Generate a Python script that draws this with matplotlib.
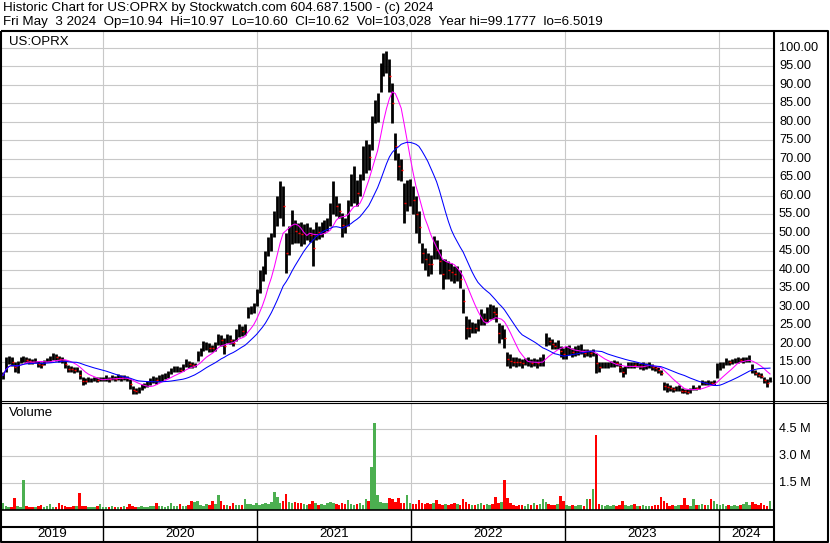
import matplotlib
matplotlib.use("Agg")
import matplotlib.pyplot as plt
from matplotlib.transforms import blended_transform_factory
import numpy as np
import pandas as pd

# Weekly price bars (US:OPRX, May 2019 - May 2024)
highs = [
    12.5, 16.5, 16.8, 16.5, 15.0, 15.5, 16.5, 16.8, 16.5, 16.2,
    16.0, 16.2, 15.5, 15.0, 15.8, 16.2, 16.8, 17.5, 17.3, 16.8,
    16.5, 15.8, 14.2, 14.0, 13.8, 13.9, 13.0, 11.2, 10.8, 11.0,
    10.8, 11.2, 11.0, 11.0, 11.2, 11.5, 11.2, 11.5, 11.3, 11.8,
    11.5, 11.6, 11.4, 10.5, 8.6, 8.2, 8.5, 9.3, 9.5, 10.0,
    10.8, 11.3, 11.0, 11.5, 11.8, 12.2, 12.6, 13.5, 14.1, 14.0,
    13.8, 14.5, 15.9, 15.5, 15.0, 14.9, 18.0, 18.8, 20.8, 20.5,
    20.4, 19.8, 20.5, 22.7, 22.5, 21.5, 22.7, 22.4, 21.3, 24.0,
    25.3, 24.9, 25.5, 30.0, 30.3, 31.0, 34.8, 40.0, 41.0, 45.0,
    49.0, 50.0, 56.0, 60.0, 64.0, 62.6, 50.0, 52.0, 56.3, 53.5,
    52.7, 53.0, 52.5, 52.7, 51.5, 51.0, 53.0, 52.0, 53.0, 53.6,
    54.0, 58.0, 64.0, 60.0, 58.0, 55.4, 54.0, 59.0, 66.0, 68.0,
    64.4, 66.0, 73.4, 75.2, 74.0, 81.5, 86.0, 87.8, 96.0, 98.6,
    99.1, 97.0, 90.5, 77.0, 71.6, 70.0, 63.5, 64.4, 64.5, 62.6,
    60.0, 56.0, 47.4, 46.0, 44.7, 44.0, 49.2, 48.0, 45.6, 43.0,
    43.0, 42.5, 42.0, 41.1, 41.0, 40.0, 34.8, 27.5, 26.7, 26.0,
    25.8, 26.7, 29.4, 28.5, 30.0, 30.8, 30.5, 30.0, 25.8, 25.0,
    24.0, 17.7, 17.3, 16.5, 16.5, 16.2, 16.0, 16.3, 16.5, 16.0,
    16.2, 16.0, 16.5, 17.3, 23.0, 22.0, 21.3, 20.5, 21.0, 19.5,
    18.8, 19.5, 19.7, 19.0, 19.5, 19.7, 20.0, 18.6, 18.6, 18.5,
    18.6, 17.5, 15.2, 15.0, 15.2, 15.0, 15.5, 15.7, 15.5, 14.8,
    13.8, 14.0, 15.0, 15.2, 15.0, 15.2, 14.8, 15.0, 14.8, 15.0,
    14.5, 14.0, 13.9, 13.0, 9.8, 9.5, 8.9, 8.5, 8.6, 8.9,
    8.0, 7.8, 7.8, 8.0, 8.9, 8.5, 9.0, 10.3, 10.0, 10.2,
    10.0, 10.3, 14.8, 15.2, 15.0, 16.1, 15.8, 16.0, 16.2, 16.6,
    16.3, 16.5, 16.6, 17.0, 14.5, 13.0, 12.5, 12.2, 11.2, 10.5, 11.2,
]
lows = [
    10.5, 12.5, 14.5, 14.0, 12.5, 12.2, 14.8, 15.0, 14.8, 14.5,
    14.5, 14.8, 13.8, 13.5, 14.2, 15.0, 15.2, 15.8, 15.5, 15.2,
    14.8, 13.5, 12.5, 12.5, 12.2, 12.4, 10.5, 8.9, 9.2, 9.6,
    9.8, 10.0, 9.8, 10.0, 10.0, 10.0, 9.8, 10.2, 10.0, 10.2,
    10.0, 10.3, 10.0, 7.8, 6.5, 6.5, 6.8, 7.6, 8.0, 8.5,
    9.0, 9.4, 9.3, 9.6, 10.0, 10.5, 10.8, 11.8, 12.3, 12.5,
    12.4, 12.8, 13.8, 13.6, 13.6, 13.7, 15.5, 16.8, 18.1, 18.5,
    17.7, 17.8, 18.0, 19.8, 19.5, 17.2, 20.4, 20.0, 19.5, 20.8,
    22.0, 22.2, 22.5, 27.0, 28.0, 28.5, 30.3, 33.8, 37.0, 39.0,
    43.7, 45.0, 49.0, 52.0, 54.0, 51.8, 39.2, 44.0, 47.0, 47.3,
    47.3, 46.4, 47.0, 48.2, 47.5, 41.0, 48.0, 48.5, 49.0, 50.0,
    50.5, 52.0, 55.0, 54.5, 54.0, 49.0, 50.0, 51.8, 57.2, 58.0,
    57.2, 60.0, 64.4, 66.2, 67.0, 72.5, 79.7, 80.0, 88.0, 92.3,
    93.2, 88.0, 79.7, 69.8, 64.4, 64.0, 52.7, 56.0, 57.2, 55.0,
    50.0, 47.3, 41.9, 40.0, 38.4, 39.0, 43.0, 43.0, 39.0, 34.8,
    37.5, 37.5, 37.0, 36.6, 37.0, 35.0, 28.5, 21.3, 22.0, 23.1,
    23.1, 23.5, 25.0, 25.0, 26.0, 26.7, 26.7, 26.0, 20.4, 21.3,
    19.0, 14.1, 13.6, 14.0, 13.8, 14.0, 13.6, 14.2, 14.0, 13.8,
    14.0, 13.6, 14.0, 14.0, 19.5, 19.8, 18.6, 18.6, 18.6, 16.5,
    15.9, 16.0, 17.0, 16.6, 16.8, 17.0, 17.2, 16.6, 16.8, 16.6,
    16.8, 12.1, 12.5, 13.4, 13.4, 13.6, 13.8, 13.9, 14.0, 12.5,
    11.2, 11.8, 13.4, 13.6, 13.4, 13.8, 13.2, 13.0, 13.2, 13.6,
    13.0, 12.8, 12.1, 11.5, 7.5, 7.1, 7.2, 7.1, 7.3, 7.4,
    6.8, 6.7, 6.5, 6.8, 7.6, 7.6, 7.8, 9.0, 8.9, 9.0,
    8.9, 9.0, 10.7, 13.0, 13.5, 14.3, 14.3, 14.5, 14.8, 14.8,
    15.0, 14.8, 15.0, 15.2, 12.1, 11.5, 11.0, 10.7, 9.5, 8.5, 9.8,
]
# peak daily volume in each week, millions of shares
volumes = [
    0.41, 0.2, 0.15, 0.18, 0.66, 0.2, 0.15, 1.65, 0.22, 0.19,
    0.15, 0.18, 0.2, 0.3, 0.17, 0.2, 0.34, 0.15, 0.18, 0.41,
    0.3, 0.2, 0.15, 0.18, 0.2, 0.22, 0.94, 0.25, 0.2, 0.15,
    0.18, 0.16, 0.2, 0.34, 0.15, 0.18, 0.15, 0.24, 0.15, 0.17,
    0.18, 0.2, 0.15, 0.34, 0.22, 0.19, 0.18, 0.2, 0.19, 0.17,
    0.2, 0.25, 0.41, 0.2, 0.22, 0.18, 0.25, 0.41, 0.2, 0.22,
    0.34, 0.25, 0.2, 0.3, 0.49, 0.45, 0.49, 0.3, 0.25, 0.34,
    0.3, 0.49, 0.35, 0.81, 0.53, 0.3, 0.3, 0.25, 0.41, 0.3,
    0.28, 0.3, 0.6, 0.35, 0.34, 0.3, 0.4, 0.3, 0.35, 0.41,
    0.35, 0.45, 1.03, 0.75, 0.4, 0.53, 0.9, 0.45, 0.41, 0.45,
    0.38, 0.41, 0.35, 0.3, 0.35, 0.53, 0.41, 0.3, 0.35, 0.3,
    0.4, 0.45, 0.41, 0.35, 0.3, 0.4, 0.35, 0.58, 0.35, 0.3,
    0.35, 0.41, 0.3, 0.62, 0.5, 2.4, 4.84, 0.81, 0.45, 0.41,
    0.41, 0.68, 0.6, 0.45, 0.68, 0.4, 0.4, 0.86, 0.41, 0.35,
    0.35, 0.56, 0.4, 0.35, 0.41, 0.35, 0.41, 0.56, 0.35, 0.3,
    0.35, 0.3, 0.35, 0.4, 0.35, 0.3, 0.62, 0.45, 0.35, 0.3,
    0.3, 0.35, 0.41, 0.3, 0.35, 0.3, 0.35, 0.75, 0.4, 0.45,
    1.69, 0.68, 0.41, 0.3, 0.25, 0.3, 0.3, 0.25, 0.35, 0.3,
    0.41, 0.3, 0.35, 0.62, 0.45, 0.35, 0.3, 0.3, 0.35, 0.79,
    0.53, 0.3, 0.25, 0.3, 0.25, 0.3, 0.3, 0.25, 0.62, 0.62,
    1.18, 4.18, 0.35, 0.3, 0.25, 0.3, 0.25, 0.3, 0.25, 0.3,
    0.53, 0.3, 0.25, 0.3, 0.35, 0.25, 0.25, 0.3, 0.25, 0.2,
    0.25, 0.3, 0.3, 0.75, 0.53, 0.41, 0.25, 0.3, 0.25, 0.3,
    0.3, 0.68, 0.3, 0.25, 0.62, 0.3, 0.3, 0.35, 0.3, 0.3,
    0.62, 0.53, 0.35, 0.3, 0.35, 0.25, 0.3, 0.25, 0.3, 0.25,
    0.3, 0.35, 0.47, 0.3, 0.47, 0.35, 0.3, 0.4, 0.3, 0.25, 0.53,
]
price_ticks = list(range(10, 105, 5))
volume_ticks = [1.5, 3.0, 4.5]
years = [2019, 2020, 2021, 2022, 2023, 2024]

header1 = "Historic Chart for US:OPRX by Stockwatch.com 604.687.1500 - (c) 2024"
header2 = ("Fri May  3 2024  Op=10.94  Hi=10.97  Lo=10.60  Cl=10.62  "
           "Vol=103,028  Year hi=99.1777  lo=6.5019")

plt.rcParams['font.family'] = ['Liberation Sans', 'DejaVu Sans']

W, H = 830, 543
GRID = '#c8c8c8'
GREEN = '#4caf50'


# axes box from pixel corners (origin top-left)
def box(x0, y0, x1, y1):
    return [x0 / W, 1 - y1 / H, (x1 - x0) / W, (y1 - y0) / H]


dates = pd.date_range('2019-05-08', periods=len(highs), freq='W-WED')
highs = np.array(highs)
lows = np.array(lows)
mids = (highs + lows) / 2
ma_fast = pd.Series(mids).rolling(8, min_periods=1).mean()
ma_slow = pd.Series(mids).rolling(20, min_periods=1).mean()
down = np.r_[False, np.diff(mids) < 0]
vol_colors = [('red' if d else GREEN) for d in down]

fig = plt.figure(figsize=(W / 100, H / 100), dpi=100)
ax_p = fig.add_axes(box(2, 32, 773, 400.5))
ax_v = fig.add_axes(box(2, 402.5, 773, 510), sharex=ax_p)
ax_y = fig.add_axes(box(2, 510, 773, 541), sharex=ax_p)
for ax in (ax_p, ax_v, ax_y):
    ax.axis('off')

x0, x1 = pd.Timestamp('2019-05-06'), pd.Timestamp('2024-05-08')
ax_p.set_xlim(x0, x1)
ax_p.set_ylim(4.73, 104.3)
ax_v.set_ylim(0, 6.0)
ax_y.set_ylim(0, 1)

jan1 = [pd.Timestamp(f'{y}-01-01') for y in years[1:]]

# grid
for p in price_ticks:
    ax_p.axhline(p, color=GRID, lw=0.8, zorder=0)
for v in volume_ticks:
    ax_v.axhline(v, color=GRID, lw=0.8, zorder=0)
for d in jan1:
    ax_p.axvline(d, color=GRID, lw=0.8, zorder=0)
    ax_v.axvline(d, color=GRID, lw=0.8, zorder=0)
    ax_y.axvline(d, color='black', lw=1.0)

# price bars + moving averages
ax_p.vlines(dates, lows, highs, color='black', lw=2.0, zorder=2)
ax_p.plot(dates[down] + pd.Timedelta(days=2), mids[down], ls='none',
          marker='_', ms=2, mew=1.0, color='red', zorder=3)
ax_p.plot(dates, ma_fast, color='#ff00ff', lw=0.75, zorder=4)
ax_p.plot(dates, ma_slow, color='#0000ff', lw=0.75, zorder=4)

# volume
ax_v.bar(dates, volumes, width=6, color=vol_colors, lw=0, zorder=2)

# right-hand labels
tp = blended_transform_factory(fig.transFigure, ax_p.transData)
for p in price_ticks:
    ax_p.text(779 / W, p, f'{p:.2f}', transform=tp, va='center', ha='left',
              fontsize=9.2, clip_on=False)
tv = blended_transform_factory(fig.transFigure, ax_v.transData)
for v in volume_ticks:
    ax_v.text(779 / W, v, f'{v:.1f} M', transform=tv, va='center', ha='left',
              fontsize=9.2, clip_on=False)

# year strip
ax_y.axhline(0.45, color='black', lw=1.5)
edges = [x0] + jan1 + [x1]
for y, a, b in zip(years, edges[:-1], edges[1:]):
    ax_y.text(a + (b - a) / 2, 0.22, str(y), ha='center', va='center', fontsize=9.6)

# frame and header drawn in pixel space
ax_o = fig.add_axes([0, 0, 1, 1])
ax_o.set_xlim(0, W)
ax_o.set_ylim(H, 0)
ax_o.axis('off')
k = dict(color='black', solid_capstyle='butt')
ax_o.plot([1, 1, 828, 828, 1], [31, 541.5, 541.5, 31, 31], lw=1.5, **k)
ax_o.plot([773.5, 773.5], [31, 541.5], lw=1.5, **k)
ax_o.plot([1, 828], [400.5, 400.5], lw=0.8, **k)
ax_o.plot([1, 828], [402.7, 402.7], lw=0.8, **k)
ax_o.plot([1, 773.5], [510, 510], lw=1.2, **k)

ax_o.text(3, 8, header1, va='center', ha='left', fontsize=9.6)
ax_o.text(3, 22, header2, va='center', ha='left', fontsize=9.6)
ax_o.text(9, 42, 'US:OPRX', va='center', ha='left', fontsize=9.5)
ax_o.text(9, 413, 'Volume', va='center', ha='left', fontsize=9.5)

fig.savefig('out.png', dpi=100, facecolor='white')
